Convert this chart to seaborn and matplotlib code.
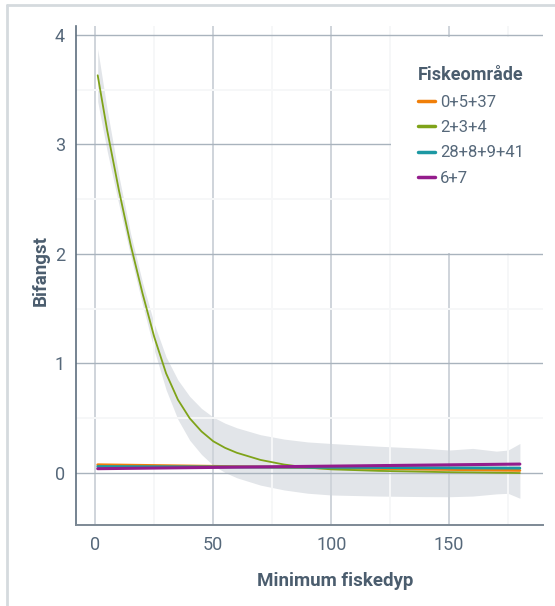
import pandas as pd
import matplotlib
matplotlib.use('Agg')
import matplotlib.pyplot as plt
from matplotlib import font_manager
from matplotlib.patches import Rectangle
from matplotlib.lines import Line2D
from matplotlib.ticker import MultipleLocator
import seaborn as sns

# Data
areas = ['0+5+37', '2+3+4', '28+8+9+41', '6+7']
colors = ['#F07F09', '#7FA319', '#1C98A3', '#941C8C']

# 2+3+4: smooth fit with confidence band
depth = [1, 5, 10, 15, 20, 25, 30, 35, 40, 45, 50, 55, 60, 70, 80, 90, 100,
         120, 140, 150, 160, 170, 175, 180]
fit_234 = [3.63, 3.13, 2.58, 2.08, 1.64, 1.24, 0.91, 0.67, 0.50, 0.38, 0.29,
           0.23, 0.185, 0.12, 0.078, 0.05, 0.034, 0.02, 0.012, 0.008, 0.006,
           0.003, 0.002, 0.0]
upper_234 = [3.87, 3.32, 2.71, 2.18, 1.74, 1.36, 1.06, 0.85, 0.70, 0.59, 0.51,
             0.455, 0.413, 0.35, 0.31, 0.284, 0.27, 0.245, 0.225, 0.21, 0.225,
             0.20, 0.21, 0.27]
lower_234 = [3.39, 2.94, 2.45, 1.98, 1.54, 1.12, 0.76, 0.49, 0.30, 0.17, 0.07,
             0.005, -0.043, -0.11, -0.154, -0.184, -0.20, -0.21, -0.215, -0.216,
             -0.21, -0.19, -0.185, -0.23]

# the other areas are almost flat
flat_depth = [1, 90, 180]
fit_0537 = [0.076, 0.050, 0.024]
fit_288941 = [0.060, 0.053, 0.045]
fit_67 = [0.040, 0.061, 0.082]

x_ticks = [0, 50, 100, 150]
y_ticks = [0, 1, 2, 3, 4]

rows = []
for a, xs, ys in [(areas[0], flat_depth, fit_0537), (areas[1], depth, fit_234),
                  (areas[2], flat_depth, fit_288941), (areas[3], flat_depth, fit_67)]:
    for x, y in zip(xs, ys):
        rows.append({'Minimum fiskedyp': x, 'Bifangst': y, 'Fiskeområde': a})
df = pd.DataFrame(rows)

sns.set_style('white')
names = {f.name for f in font_manager.fontManager.ttflist}
base_font = 'Liberation Sans Narrow' if 'Liberation Sans Narrow' in names else 'Roboto'
plt.rcParams['font.family'] = [base_font, 'DejaVu Sans']

txt = '#4b5d6e'
fig = plt.figure(figsize=(5.55, 6.06), dpi=100)
ax = fig.add_axes([76 / 555, 1 - 525 / 606, 467 / 555, 499 / 606])

# frame lines around the figure (left and top only)
fig.add_artist(Line2D([7 / 555, 7 / 555], [0, 1 - 5 / 606], transform=fig.transFigure,
                      color='#d5dade', lw=2))
fig.add_artist(Line2D([7 / 555, 1], [1 - 5 / 606, 1 - 5 / 606], transform=fig.transFigure,
                      color='#d5dade', lw=2))

ax.fill_between(depth, lower_234, upper_234, color='#e2e5e9', lw=0, zorder=1)

widths = {'0+5+37': 2.0, '2+3+4': 1.3, '28+8+9+41': 2.0, '6+7': 2.2}
sns.lineplot(data=df, x='Minimum fiskedyp', y='Bifangst', hue='Fiskeområde',
             hue_order=areas, palette=colors, ax=ax, legend=False, zorder=3)
for line, a in zip(ax.lines, areas):
    line.set_linewidth(widths[a])

ax.set_xlim(-8.2, 189.8)
ax.set_ylim(-0.474, 4.08)
ax.set_xticks(x_ticks)
ax.set_yticks(y_ticks)
ax.xaxis.set_minor_locator(MultipleLocator(25))
ax.yaxis.set_minor_locator(MultipleLocator(0.5))
ax.set_axisbelow('line')
ax.grid(which='major', axis='x', color='#cfd4da', lw=1.4)
ax.grid(which='major', axis='y', color='#a9b3bd', lw=1.0)
ax.grid(which='minor', color='#f6f7f8', lw=1.4)

for s in ['top', 'right']:
    ax.spines[s].set_visible(False)
ax.spines['left'].set_color('#5d6e7e')
ax.spines['bottom'].set_color('#7d8995')
ax.spines['left'].set_linewidth(1.2)
ax.spines['bottom'].set_linewidth(1.4)
ax.tick_params(axis='both', which='major', length=5, width=1, color='#8a96a2',
               labelsize=13, labelcolor='#56687a', pad=3)
ax.tick_params(which='minor', length=0)

ax.set_xlabel('Minimum fiskedyp', fontsize=13.5, fontweight='bold', color=txt)
ax.set_ylabel('Bifangst', fontsize=13.5, fontweight='bold', color=txt)
ax.xaxis.set_label_coords((335 - 76) / 467, -(572 - 525) / 499)
ax.yaxis.set_label_coords(-(76 - 50) / 467, (525 - 270) / 499)

# legend sits on a white box inside the plot
ax.add_patch(Rectangle(((391 - 76) / 467, (525 - 253) / 499), (543 - 391) / 467,
                       (253 - 37) / 499, transform=ax.transAxes, facecolor='white',
                       edgecolor='none', zorder=1.7))
handles = [Line2D([0], [0], color=c, lw=2.5) for c in colors]
leg = ax.legend(handles, areas, title='Fiskeområde', loc='upper left',
                bbox_to_anchor=((410 - 76) / 467, (525 - 58) / 499), frameon=False,
                fontsize=12, title_fontsize=13, handlelength=1.0, handletextpad=0.3,
                labelspacing=0.62, borderpad=0, alignment='left')
leg.get_title().set_fontweight('bold')
leg.get_title().set_color(txt)
for t in leg.get_texts():
    t.set_color('#56687a')

fig.savefig('out.png', dpi=100)
